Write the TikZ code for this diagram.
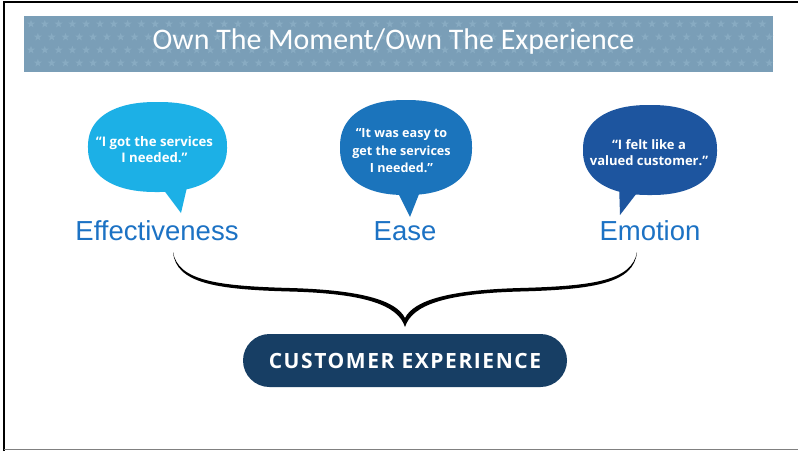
\documentclass[tikz,border=0pt]{standalone}
\usepackage{fontspec}
\setmainfont{Liberation Sans}
\newfontfamily\titlefont{Carlito}
\newfontfamily\quotefont{Open Sans}
\newfontfamily\pillfont[LetterSpace=7.5]{Open Sans}
\usetikzlibrary{calc}

\definecolor{bannerblue}{HTML}{7A9EB7}
\definecolor{starblue}{HTML}{88ABC2}
\definecolor{bubbleA}{HTML}{1CB0E6}
\definecolor{bubbleB}{HTML}{1B74BC}
\definecolor{bubbleC}{HTML}{1D559F}
\definecolor{labelblue}{HTML}{1C72C4}
\definecolor{pillnavy}{HTML}{173E64}

\tikzset{
  banner/.style={fill=bannerblue, minimum width=749pt, minimum height=56pt, inner sep=0pt},
  titletext/.style={text=white, font=\titlefont\fontsize{29.9}{34}\selectfont},
  quote/.style 2 args={text=white, align=center, inner sep=0pt,
    font=\quotefont\bfseries\fontsize{#1}{#2}\selectfont},
  keyword/.style={text=labelblue, font=\fontsize{27.5}{30}\selectfont},
  pill/.style={fill=pillnavy, rounded corners=26.5pt, minimum width=324pt,
    minimum height=53pt, inner sep=0pt, text=white, text depth=0pt,
    font=\pillfont\bfseries\fontsize{21}{24}\selectfont},
  starmark/.style={fill=starblue}
}

\begin{document}
\begin{tikzpicture}[x=1pt,y=-1pt]
\useasboundingbox (0,0) rectangle (798,451);
\fill[white] (0,0) rectangle (798,451);

% slide frame
\draw[black, line width=1.6pt] (4,451) -- (4,2) -- (798,2);
\draw[gray, line width=1.2pt] (4,449.5) -- (798,449.5);

% title banner with a faint field of stars
\node[banner] (banner) at (398.5,44) {};
\foreach \r in {0,...,3}{
  \foreach \c in {0,...,53}{
    \pgfmathsetmacro{\sx}{31+13.8*\c+6.9*mod(\r,2)}
    \pgfmathsetmacro{\sy}{24+13*\r}
    \fill[starmark, shift={(\sx,\sy)}]
      (270:4.2) -- (306:1.7) -- (342:4.2) -- (18:1.7) -- (54:4.2) -- (90:1.7)
      -- (126:4.2) -- (162:1.7) -- (198:4.2) -- (234:1.7) -- cycle;
  }
}
\node[titletext] (title) at (393.5,42) {Own The Moment/Own The Experience};

% speech bubbles: rounded squircle body plus a pointed tail
\foreach \col/\cx/\cy/\a/\b in {bubbleA/157.5/147/69.5/45, bubbleB/406/147.5/66/47.5, bubbleC/650/150/67/45}{
  \fill[\col] plot[domain=1:361, samples=121, smooth cycle]
    ({\cx + \a*sign(cos(\x))*pow(abs(cos(\x)),0.86)},
     {\cy + \b*sign(sin(\x))*pow(abs(sin(\x)),0.86)});
}
\coordinate (tipA) at (181,213);
\coordinate (tipB) at (410,217);
\coordinate (tipC) at (620,215);
\fill[bubbleA] (160,185) -- (tipA) -- (188,183) -- cycle;
\fill[bubbleB] (396,189) -- (tipB) -- (421,189) -- cycle;
\fill[bubbleC] (619,183) -- (tipC) -- (640,189) -- cycle;

\node[quote={13.2}{16}] (qA) at (154.5,150) {“I got the services\\I needed.”};
\node[quote={12.6}{17.5}] (qB) at (401.5,151) {“It was easy to\\get the services\\I needed.”};
\node[quote={13}{16}] (qC) at (649,153) {“I felt like a\\valued customer.”};

% the three keywords
\node[keyword] (kA) at (157,231) {Effectiveness};
\node[keyword] (kB) at (405,231) {Ease};
\node[keyword] (kC) at (650,231) {Emotion};

% curly brace gathering the keywords
\coordinate (braceL) at (173,252);
\coordinate (braceM) at (405,327);
\coordinate (braceR) at (637,252);
\fill[black]
  (braceL) .. controls (176,283) and (215,289.5) .. (290,291.5)
  .. controls (365,293.5) and (398,305) .. (braceM)
  .. controls (412,305) and (445,293.5) .. (520,291.5)
  .. controls (595,289.5) and (634,283) .. (braceR)
  .. controls (632,281) and (592,286) .. (520,288)
  .. controls (450,290) and (414,300) .. (405,318)
  .. controls (396,300) and (360,290) .. (290,288)
  .. controls (218,286) and (178,281) .. (braceL) -- cycle;

% result
\node[pill] (cx) at (405,360.5) {CUSTOMER EXPERIENCE};
\end{tikzpicture}
\end{document}
